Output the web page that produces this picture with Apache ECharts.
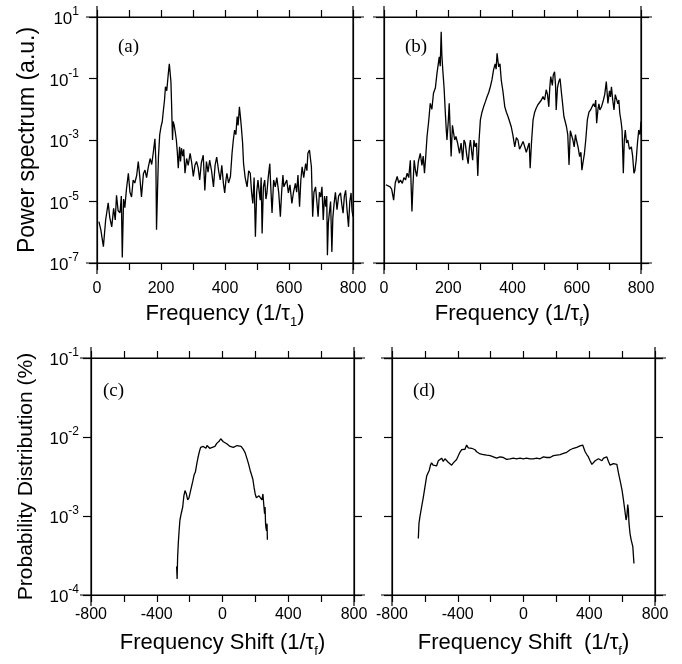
<!DOCTYPE html>
<html>
<head>
<meta charset="utf-8">
<script src="https://cdn.jsdelivr.net/npm/echarts@6/dist/echarts.min.js"></script>
<style>
  html, body { margin: 0; padding: 0; background: #fff; }
  #main { width: 682px; height: 664px; }
</style>
</head>
<body>
<div id="main"></div>
<script>
// (a) power spectrum, 1/tau_1
var freqA = [6,12,20,27,35,40,46,52,57,61,66,72,76,79,83,87,92,98,103,108,113,118,124,129,134,139,145,150,155,160,166,171,176,181,184,186,189,192,196,200,204,207,211,214,218,223,226,228,231,233,236,238,241,244,248,251,254,258,261,264,268,271,275,280,285,291,296,301,306,311,316,321,326,332,337,342,347,352,358,364,369,374,380,385,390,395,399,403,406,411,417,422,426,430,434,438,441,445,448,451,455,458,463,469,474,479,483,487,491,495,499,503,507,510,513,516,520,524,528,531,535,540,543,547,552,557,562,568,573,577,581,584,588,593,598,603,609,614,620,624,628,633,637,641,646,652,656,659,664,667,670,674,678,683,687,691,695,699,703,707,711,715,718,720,723,726,730,734,737,741,745,750,755,761,765,769,773,777,781,786,790,794,797,800];
var specA = [2.2e-6,1.2e-6,3.4e-7,2.5e-6,9e-6,3e-6,1.5e-6,6e-6,2.5e-6,1.6e-5,5e-6,4.3e-6,1.5e-5,1.5e-7,1.2e-5,6.3e-6,2.5e-5,8.3e-5,2e-5,1.4e-5,5e-5,4e-5,7e-5,2e-4,6e-5,1.4e-5,8e-5,1.05e-4,6e-5,1.26e-4,2.5e-4,1.6e-4,4e-4,1.1e-3,2e-4,1.2e-6,2e-5,2.8e-4,1.5e-3,2.7e-3,4e-3,8.3e-3,0.02,0.054,0.04,0.15,0.3,0.28,0.08,0.0155,1e-3,4e-3,3.1e-3,2e-3,1e-3,4e-4,1.2e-4,6e-4,2e-4,5.4e-4,3e-4,5e-4,8.3e-5,2.5e-4,1.5e-4,3.7e-4,1.8e-4,6.5e-5,1.5e-4,2e-4,1.26e-4,5e-5,1.8e-4,3.2e-4,2.3e-5,2e-4,9e-5,2.2e-4,1e-4,3e-5,1.5e-4,2.8e-4,1e-4,5e-5,1.5e-4,3.9e-5,1.9e-5,5e-5,8.3e-5,4e-5,6.5e-5,3.7e-4,1e-3,2.1e-3,1.5e-3,5.8e-3,3e-3,0.012,6e-3,2.7e-3,8e-4,1.7e-4,6e-5,3e-5,1e-4,8.3e-5,2e-5,8.7e-6,6e-5,7.2e-7,2e-5,5e-5,2e-5,1.1e-5,6e-5,9.1e-7,3e-5,5e-5,1.2e-5,1.9e-5,6e-5,1.7e-4,3e-5,4.2e-6,5e-5,3e-5,6e-5,1.9e-5,3.2e-6,2e-5,7.2e-5,3e-5,3e-5,5e-5,1.9e-5,3.5e-5,8.7e-6,2e-5,3.9e-5,2e-5,7.2e-5,6.8e-6,5e-5,1.35e-4,6e-5,1.7e-4,1e-4,3.7e-4,4.7e-4,2.5e-4,1.35e-4,3.2e-6,2e-5,3e-5,1e-5,3.2e-6,2e-5,1.4e-5,3e-5,2.5e-6,1.5e-5,6.8e-6,1.5e-5,1.8e-7,2e-6,4.2e-6,1e-5,2.3e-7,3e-6,8.7e-6,2e-5,5.4e-6,1.5e-5,1.9e-5,8e-6,4.2e-6,1.5e-5,2.3e-5,6e-6,1.5e-6,1e-5,1.9e-5,5e-6,3.2e-6];

// (b) power spectrum, 1/tau_f
var freqB = [6,12,19,24,30,35,41,46,51,57,62,67,72,77,82,87,90,94,98,102,107,113,118,122,126,130,134,139,144,149,154,160,165,169,172,175,178,180,183,187,191,194,196,200,203,206,209,213,217,220,224,229,235,240,245,249,253,258,262,266,269,273,276,280,284,288,292,296,300,305,310,316,321,326,331,336,341,346,349,352,355,357,361,365,370,376,381,386,391,396,401,407,412,417,422,428,433,438,443,448,452,455,459,464,469,474,479,484,490,495,500,505,509,513,516,519,524,527,531,534,536,540,544,548,552,556,560,564,568,572,576,580,584,588,592,596,599,604,609,613,616,620,624,628,633,638,643,648,652,656,659,662,666,669,672,677,683,687,692,695,697,702,705,708,712,716,720,724,728,731,734,738,741,745,748,751,755,759,764,770,774,778,781,785,789,793,797,800];
var specB = [3.5e-5,3.2e-5,3e-5,2.5e-5,1.1e-5,4e-5,6.5e-5,4e-5,5e-5,3.9e-5,6e-5,5e-5,8.3e-5,6e-5,2.2e-4,4.7e-6,3e-5,2.2e-4,1e-4,6.5e-5,2e-4,3.7e-4,1.5e-4,3e-4,8.3e-5,3e-4,1.3e-3,4e-3,0.0155,0.01,0.033,0.05,0.15,0.3,0.51,0.25,3.3,0.6,0.19,0.05,7.4e-3,2e-3,1e-3,4e-3,0.0155,2e-3,2.9e-4,3e-3,2.7e-3,1e-3,1.3e-3,8e-4,3.7e-4,8e-4,2.2e-4,1e-3,7.8e-4,3e-4,1.7e-4,6e-4,1e-3,4e-4,2.2e-4,1e-3,6e-4,8e-4,6.8e-5,1e-3,4.5e-3,8e-3,0.012,0.018,0.026,0.035,0.054,0.09,0.19,0.3,0.2,0.66,0.35,0.24,0.3,0.089,0.04,0.012,8e-3,5.8e-3,4e-3,2.7e-3,1.5e-3,6e-4,1.2e-3,1e-3,5e-4,4.7e-4,9e-4,7.8e-4,4e-4,6e-4,8e-4,1.2e-4,8e-4,4.5e-3,8e-3,0.011,0.014,0.0155,0.02,0.026,0.02,0.043,0.03,0.012,0.05,0.115,0.06,0.13,0.166,0.06,9.5e-3,0.05,0.079,0.1,0.037,0.015,5.8e-3,4e-3,2.7e-3,1.5e-3,1.55e-4,2e-3,2.1e-3,1e-3,6e-4,1.5e-3,1e-3,6e-4,2.9e-4,4e-4,1.05e-4,2e-4,3.7e-4,1e-3,4.5e-3,8e-3,9.5e-3,0.011,0.015,0.012,0.02,3.5e-3,0.01,0.015,9.5e-3,0.012,0.02,0.03,0.079,0.03,0.0155,0.04,0.025,0.054,0.02,9.5e-3,0.03,0.033,0.015,0.02,7.4e-3,4e-3,2.1e-3,8.3e-5,1e-3,2.1e-3,8e-4,1e-3,5e-4,6e-4,3e-4,8.3e-5,1e-4,2.2e-4,8e-4,2.1e-3,1.5e-3,4e-3];

// (c) probability distribution vs frequency shift
var shiftC = [-279,-276,-273,-269,-264,-259,-250,-242,-235,-228,-220,-212,-204,-196,-188,-180,-173,-165,-157,-149,-141,-133,-125,-117,-109,-101,-94,-86,-78,-70,-62,-54,-46,-35,-27,-19,-11,-3,5,16,26,36,46,56,66,77,89,101,113,120,128,138,148,158,168,177,185,192,199,206,213,222,230,234,240,246,251,256,259,262,264,268,271,273];
var probC = [2.3e-4,1.6e-4,3e-4,4.5e-4,6.5e-4,8.9e-4,1.1e-3,1.3e-3,1.8e-3,2.1e-3,1.9e-3,1.6e-3,1.7e-3,2e-3,2.1e-3,2.8e-3,3.3e-3,3.6e-3,4.5e-3,5.5e-3,6.5e-3,7.4e-3,7e-3,7.6e-3,7.9e-3,7.2e-3,7.8e-3,7.6e-3,7.2e-3,6.9e-3,7.4e-3,7.8e-3,7.6e-3,8.3e-3,8.6e-3,8.9e-3,9.5e-3,9.2e-3,8.7e-3,8.3e-3,8.2e-3,7.8e-3,7.6e-3,7.9e-3,7.4e-3,7.2e-3,7.8e-3,8.1e-3,7.6e-3,7.8e-3,6.9e-3,6.3e-3,5.4e-3,4.6e-3,3.8e-3,3.3e-3,2.9e-3,2.3e-3,1.9e-3,1.7e-3,1.7e-3,1.8e-3,1.7e-3,1.9e-3,1.6e-3,1.9e-3,1.4e-3,1.07e-3,1.3e-3,8e-4,7.2e-4,6.5e-4,8e-4,5e-4];

// (d)
var shiftD = [-640,-636,-630,-620,-610,-600,-589,-581,-573,-566,-559,-550,-540,-529,-518,-508,-498,-488,-478,-468,-458,-448,-437,-427,-417,-407,-397,-387,-376,-366,-356,-346,-336,-326,-315,-305,-295,-285,-275,-264,-254,-244,-234,-224,-214,-203,-193,-183,-173,-163,-153,-143,-133,-123,-113,-103,-92,-82,-72,-62,-52,-42,-31,-21,-11,-1,9,19,30,40,50,60,70,80,91,101,111,121,131,141,152,162,172,182,192,202,213,223,233,243,253,263,274,284,294,304,314,324,334,344,354,360,366,375,385,395,405,416,426,436,446,456,467,477,487,497,507,517,527,537,547,557,568,578,591,600,608,616,624,629,634,638,642,648,655,665,672];
var probD = [5.2e-4,8e-4,9.8e-4,1.3e-3,1.7e-3,2.3e-3,3.2e-3,3.5e-3,3.8e-3,4.4e-3,4.7e-3,4.4e-3,4.6e-3,4.3e-3,5e-3,5.2e-3,5.4e-3,4.9e-3,5.3e-3,5.1e-3,4.8e-3,4.6e-3,4.4e-3,4.7e-3,4.5e-3,5.2e-3,5.4e-3,6.4e-3,6.9e-3,7.2e-3,7e-3,7.9e-3,7.3e-3,7.6e-3,7.2e-3,6.8e-3,6.9e-3,6.5e-3,6.3e-3,6.1e-3,6.2e-3,6e-3,5.8e-3,5.9e-3,5.7e-3,5.8e-3,5.5e-3,5.6e-3,5.7e-3,5.4e-3,5.5e-3,5.6e-3,5.3e-3,5.5e-3,5.4e-3,5.2e-3,5.5e-3,5.3e-3,5.2e-3,5.4e-3,5.1e-3,5.3e-3,5.2e-3,5.4e-3,5.2e-3,5.3e-3,5.2e-3,5.4e-3,5.2e-3,5.3e-3,5.5e-3,5.3e-3,5.2e-3,5.4e-3,5.5e-3,5.3e-3,5.4e-3,5.6e-3,5.4e-3,5.5e-3,5.7e-3,5.5e-3,5.6e-3,5.8e-3,5.7e-3,5.9e-3,5.8e-3,6e-3,6.2e-3,6.2e-3,6.5e-3,6.4e-3,6.7e-3,6.9e-3,6.8e-3,7.2e-3,7e-3,7.4e-3,7.5e-3,7.7e-3,8.1e-3,7.9e-3,7.5e-3,6.5e-3,6e-3,5.6e-3,5e-3,4.5e-3,4.7e-3,5e-3,4.8e-3,5.3e-3,5.4e-3,5e-3,5.4e-3,5.3e-3,5.6e-3,4.9e-3,4.4e-3,4.3e-3,4.6e-3,4.5e-3,4.5e-3,3.5e-3,2.6e-3,2.1e-3,1.6e-3,1.2e-3,8.9e-4,1e-3,1.4e-3,1.2e-3,8e-4,6e-4,5e-4,4.1e-4,2.5e-4];

var topYTicks = [1e-7,1e-5,1e-3,1e-1,10];

var panels = [
    {x: freqA, y: specA, box: [97,17,256,246], xmin: 0, xmax: 800, xint: 100, xlab: 200, ymin: 1e-7, ymax: 10, ylab: true, xname: ['Frequency (1/τ', '1', ')'], tag: '(a)'},
    {x: freqB, y: specB, box: [384,17,257,246], xmin: 0, xmax: 800, xint: 100, xlab: 200, ymin: 1e-7, ymax: 10, ylab: false, xname: ['Frequency (1/τ', 'f', ')'], tag: '(b)'},
    {x: shiftC, y: probC, box: [91,358,263,237], xmin: -800, xmax: 800, xint: 200, xlab: 400, ymin: 1e-4, ymax: 0.1, ylab: true, xname: ['Frequency Shift (1/τ', 'f', ')'], tag: '(c)'},
    {x: shiftD, y: probD, box: [392,358,263,237], xmin: -800, xmax: 800, xint: 200, xlab: 400, ymin: 1e-4, ymax: 0.1, ylab: false, xname: ['Frequency Shift  (1/τ', 'f', ')'], tag: '(d)'}
];

var sans = 'Liberation Sans, Arial, sans-serif';
var lineStyle = {color: '#000', width: 1.2};

var grid = [], xAxis = [], yAxis = [], series = [], graphic = [];

panels.forEach(function (p, i) {
    var b = p.box;
    var top = i < 2;
    grid.push({left: b[0], top: b[1], width: b[2], height: b[3], containLabel: false});

    var xbase = {gridIndex: i, type: 'value', min: p.xmin, max: p.xmax, interval: p.xint,
        axisLine: {show: true, onZero: false, lineStyle: lineStyle}, axisTick: {show: true, inside: false, length: 7, lineStyle: lineStyle},
        splitLine: {show: false}};
    xAxis.push(Object.assign({}, xbase, {
        position: 'bottom',
        axisLabel: {show: true, margin: top ? 18 : 12, color: '#000', fontFamily: sans, fontSize: 16,
            formatter: function (v) { return v % p.xlab === 0 ? String(v) : ''; }},
        name: '{n|' + p.xname[0] + '}{s|' + p.xname[1] + '}{n|' + p.xname[2] + '}',
        nameLocation: 'middle', nameGap: top ? 40 : 37,
        nameTextStyle: {rich: {
            n: {fontFamily: sans, fontSize: 22, color: '#000', lineHeight: 26, verticalAlign: 'top'},
            s: {fontFamily: sans, fontSize: 13, color: '#000', lineHeight: 26, verticalAlign: 'bottom'}
        }}
    }));
    xAxis.push(Object.assign({}, xbase, {position: 'top', axisLabel: {show: false}}));

    var ybase = {gridIndex: i, type: 'log', logBase: 10, min: p.ymin, max: p.ymax,
        axisLine: {show: true, onZero: false, lineStyle: lineStyle}, axisTick: {show: true, inside: false, length: 8, lineStyle: lineStyle},
        splitLine: {show: false}, minorTick: {show: false}};
    if (top) {
        ybase.axisTick.customValues = topYTicks;
    }
    var yl = Object.assign({}, ybase, {
        position: 'left',
        axisLabel: {show: p.ylab, margin: top ? 18 : 12, fontFamily: sans,
            formatter: function (v) { return '{b|10}{e|' + Math.round(Math.log10(v)) + '}'; },
            rich: {
                b: {fontFamily: sans, fontSize: 17, color: '#000', lineHeight: 22, verticalAlign: 'bottom'},
                e: {fontFamily: sans, fontSize: 12, color: '#000', lineHeight: 22, verticalAlign: 'top'}
            }}
    });
    if (top) yl.axisLabel.customValues = topYTicks;
    if (i === 0) {
        yl.name = 'Power spectrum (a.u.)';
    } else if (i === 2) {
        yl.name = 'Probability Distribution (%)';
    }
    if (p.ylab) {
        yl.nameLocation = 'middle';
        yl.nameGap = top ? 58 : 54;
        yl.nameTextStyle = {fontFamily: sans, fontSize: top ? 23 : 21, color: '#000'};
    }
    yAxis.push(yl);
    yAxis.push(Object.assign({}, ybase, {position: 'right', axisLabel: {show: false}}));

    series.push({
        type: 'line', xAxisIndex: 2 * i, yAxisIndex: 2 * i,
        data: p.x.map(function (v, k) { return [v, p.y[k]]; }),
        showSymbol: false, symbol: 'none', lineStyle: {color: '#000', width: 1.3}, animation: false
    });

    // frame lines run a little past the box corners
    var ext = 11;
    var L = b[0], T = b[1], R = b[0] + b[2], B = b[1] + b[3];
    [[L - ext, T, R + ext, T], [L - ext, B, R + ext, B], [L, T - ext, L, B + ext], [R, T - ext, R, B + ext]].forEach(function (s) {
        graphic.push({type: 'line', shape: {x1: s[0], y1: s[1], x2: s[2], y2: s[3]}, style: {stroke: '#000', lineWidth: 1.2}, silent: true});
    });
    graphic.push({type: 'text', left: L + (i === 2 ? 12 : 21), top: T + (top ? 21 : 24),
        style: {text: p.tag, fontFamily: 'Liberation Serif, Times New Roman, serif', fontSize: 19, fill: '#000'}});
});

var chart = echarts.init(document.getElementById('main'));
chart.setOption({
    backgroundColor: '#fff',
    animation: false,
    grid: grid,
    xAxis: xAxis,
    yAxis: yAxis,
    series: series,
    graphic: graphic
});
</script>
</body>
</html>
